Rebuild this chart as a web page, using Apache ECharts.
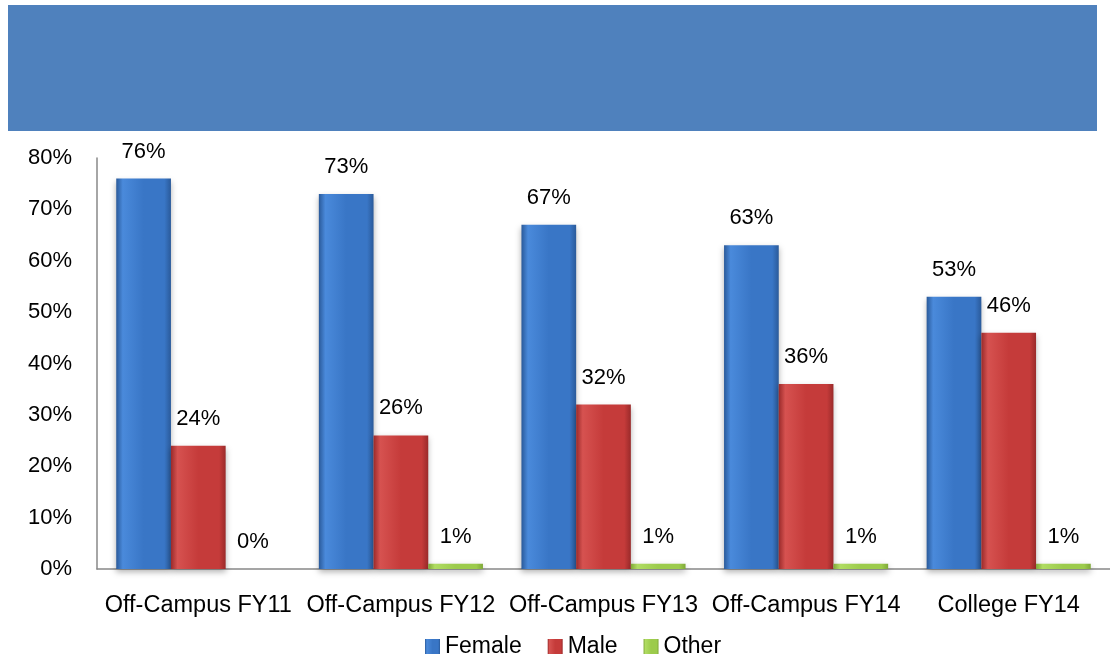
<!DOCTYPE html>
<html>
<head>
<meta charset="utf-8">
<script src="https://cdn.jsdelivr.net/npm/echarts@6/dist/echarts.min.js"></script>
<style>
  html, body { margin: 0; padding: 0; background: #fff; }
  #chart { width: 1110px; height: 656px; }
</style>
</head>
<body>
<div id="chart"></div>
<script>
// data
const categories = ['Off-Campus FY11', 'Off-Campus FY12', 'Off-Campus FY13', 'Off-Campus FY14', 'College FY14'];
const female = [76, 73, 67, 63, 53];
const male = [24, 26, 32, 36, 46];
const other = [0, 1, 1, 1, 1];
const yTicks = [0, 10, 20, 30, 40, 50, 60, 70, 80];

const FONT = 'Liberation Sans';

// horizontal gradient to fake the bevelled bars
const grad = (edge, mid, hi) => new echarts.graphic.LinearGradient(0, 0, 1, 0, [
  { offset: 0, color: edge },
  { offset: 0.12, color: hi },
  { offset: 0.5, color: mid },
  { offset: 0.88, color: mid },
  { offset: 1, color: edge },
]);

const makeSeries = (name, data, edge, mid, hi) => ({
  name,
  type: 'bar',
  data,
  barGap: 0,
  barCategoryGap: '19%',
  itemStyle: {
    color: grad(edge, mid, hi),
    shadowBlur: 6,
    shadowColor: 'rgba(0,0,0,0.3)',
    shadowOffsetY: 3,
  },
  label: {
    show: true,
    position: 'top',
    distance: 16,
    formatter: '{c}%',
    fontFamily: FONT,
    fontSize: 22,
    color: '#000',
  },
});

const chart = echarts.init(document.getElementById('chart'));

chart.setOption({
  animation: false,
  textStyle: { fontFamily: FONT },
  graphic: [
    {
      type: 'rect',
      shape: { x: 8, y: 5, width: 1089, height: 126 },
      style: { fill: '#4F81BD' },
      z: 0,
    },
  ],
  grid: { left: 97, right: 0, top: 158, bottom: 87 },
  legend: {
    top: 630,
    left: 420,
    itemWidth: 15,
    itemHeight: 15,
    itemGap: 26,
    icon: 'rect',
    textStyle: { fontFamily: FONT, fontSize: 23, color: '#000' },
    data: ['Female', 'Male', 'Other'],
  },
  xAxis: {
    type: 'category',
    data: categories,
    axisLine: { lineStyle: { color: '#888', width: 1.5 } },
    axisTick: { show: false },
    axisLabel: { fontFamily: FONT, fontSize: 23.5, color: '#000', margin: 25, interval: 0 },
  },
  yAxis: {
    type: 'value',
    min: yTicks[0],
    max: yTicks[yTicks.length - 1],
    interval: 10,
    splitLine: { show: false },
    axisLine: { show: true, lineStyle: { color: '#888', width: 1.5 } },
    axisTick: { show: false },
    axisLabel: { fontFamily: FONT, fontSize: 22, color: '#000', margin: 25, formatter: '{value}%' },
  },
  series: [
    makeSeries('Female', female, '#2A5A9A', '#3976C6', '#4A8ADB'),
    makeSeries('Male', male, '#9A2A2A', '#C53B3A', '#D65250'),
    makeSeries('Other', other, '#7FA838', '#9CCB4C', '#B0DC62'),
  ],
});
</script>
</body>
</html>
